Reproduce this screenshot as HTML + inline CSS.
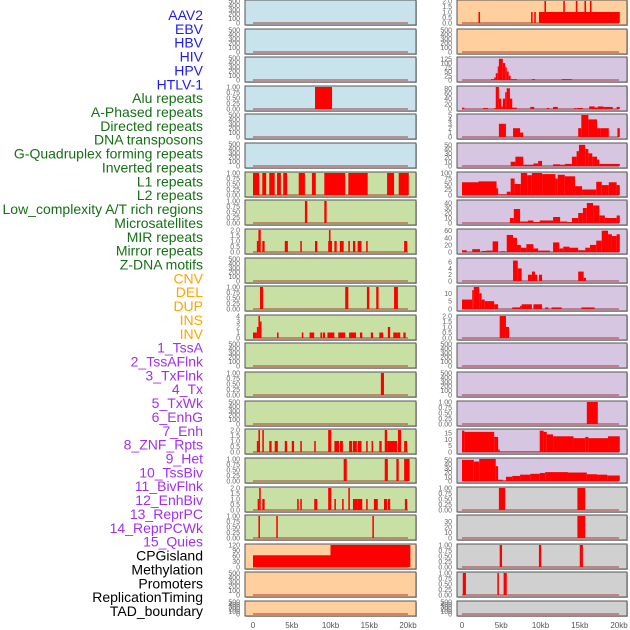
<!DOCTYPE html>
<html><head><meta charset="utf-8">
<style>
html,body{margin:0;padding:0;background:#fff;width:630px;height:630px;overflow:hidden}
svg{display:block}
</style></head>
<body>
<svg id="chart" width="630" height="630" xmlns="http://www.w3.org/2000/svg" font-family="Liberation Sans, sans-serif"></svg>
<script>
const trackLabels = ["AAV2","EBV","HBV","HIV","HPV","HTLV-1","Alu repeats","A-Phased repeats","Directed repeats","DNA transposons","G-Quadruplex forming repeats","Inverted repeats","L1 repeats","L2 repeats","Low_complexity A/T rich regions","Microsatellites","MIR repeats","Mirror repeats","Z-DNA motifs","CNV","DEL","DUP","INS","INV","1_TssA","2_TssAFlnk","3_TxFlnk","4_Tx","5_TxWk","6_EnhG","7_Enh","8_ZNF_Rpts","9_Het","10_TssBiv","11_BivFlnk","12_EnhBiv","13_ReprPC","14_ReprPCWk","15_Quies","CPGisland","Methylation","Promoters","ReplicationTiming","TAD_boundary"];
const labelGroups = ["v","v","v","v","v","v","r","r","r","r","r","r","r","r","r","r","r","r","r","s","s","s","s","s","c","c","c","c","c","c","c","c","c","c","c","c","c","c","c","o","o","o","o","o"];
const xTickLabels = ["0","5kb","10kb","15kb","20kb"];
const xTickValues = [0,5,10,15,20];
const E = ["0","100","200","300","400","500"];
const U = ["0.00","0.25","0.50","0.75","1.00"];
const T2 = ["0.0","0.5","1.0","1.5","2.0"];
const leftBg = ["b","b","b","b","b","b","g","g","g","g","g","g","g","g","g","g","g","g","g","o","o","o"];
const rightBg = ["o","o","p","p","p","p","p","p","p","p","p","p","p","p","p","p","p","y","y","y","y","y"];
const leftTicks = [E,E,E,U,E,E,U,U,T2,E,U,["0","1","2","3","4"],E,U,E,T2,U,T2,U,["0","30","60","90","120"],E,E];
const rightTicks = [T2,E,["0","25","50","75","100","125"],["0","20","40","60","80"],["0","1","2","3","4","5"],["0","10","20","30","40","50"],["0","25","50","75","100"],["0","10","20","30","40"],["0","20","40","60"],["0","2","4","6"],["0","5","10"],T2,E,E,U,["0","5","10","15"],["0","10","20","30","40","50"],U,["0","10","20","30"],U,U,E];
const leftYmax = [500,500,500,1,500,500,1,1,2,500,1,4,500,1,500,2,1,2,1,120,500,500];
const rightYmax = [2,500,130,85,5,52,100,44,62,7,14,2,500,500,1,17.5,52,1,40,1,1,500];
const leftSegs = [
 [],[],[],
 [[8.0,10.2,1]],
 [],[],
 [[0,0.8,1],[1.2,1.7,1],[2.1,2.8,1],[3.1,3.6,1],[3.9,4.4,1],[5.9,6.7,1],[7.6,8.1,1],[9.2,11.9,1],[12.3,14.8,1],[17.3,18.2,1],[18.8,20.1,1]],
 [[6.7,7.0,1],[9.2,9.5,1]],
 [[0.5,0.7,1],[0.7,1.0,2],[1.2,1.5,1],[4.1,4.5,1],[6.1,6.3,1],[8.0,8.3,1],[9.7,9.8,1],[9.8,10.0,2],[10.0,10.2,1],[10.5,10.8,1],[11.2,11.7,1],[12.3,12.5,1],[12.9,13.2,1],[13.5,14.0,1],[14.6,14.8,1],[19.5,19.9,1]],
 [],
 [[0.9,1.3,1],[11.9,12.3,1],[14.7,15.0,1],[15.9,16.2,1],[18.2,18.7,1]],
 [[0,0.5,1],[0.5,0.7,2],[0.7,0.9,4],[0.9,1.1,3],[3.1,3.3,1],[6.3,6.5,1],[7.3,7.9,1],[8.7,8.9,1],[9.0,9.3,1],[9.6,10.5,1],[11.0,11.9,1],[12.4,13.3,1],[13.8,14.1,1],[15.2,15.5,1],[16.3,16.8,1],[17.4,17.7,2],[18.1,18.6,1],[18.6,19.0,1],[19.4,19.7,1]],
 [],
 [[16.5,16.9,1]],
 [],
 [[0.5,0.7,1],[0.7,0.9,2],[1.2,1.4,2],[2.1,2.4,1],[2.8,3.2,1],[4.1,4.4,1],[5.0,5.3,1],[6.1,6.3,1],[7.9,8.1,1],[9.7,10.1,2],[10.5,11.1,1],[11.2,11.6,1],[12.4,12.8,1],[12.9,13.4,1],[13.5,14.0,1],[14.6,14.8,1],[15.3,15.5,1],[16.3,16.6,1],[17.0,17.3,2],[17.3,18.6,1],[18.7,19.1,2],[19.5,19.9,1]],
 [[11.7,12.1,1],[17.0,17.4,1],[18.5,18.8,1],[19.5,20.2,1]],
 [[0.6,0.8,1],[0.8,1.0,2],[1.2,1.5,1],[5.7,5.9,1],[6.1,6.3,1],[7.9,8.3,1],[9.7,10.1,2],[10.5,10.7,1],[11.5,11.7,1],[12.3,12.5,2],[12.9,13.5,1],[13.5,14.1,1],[14.6,14.8,1],[15.6,16.1,1],[16.9,17.3,1],[17.4,17.7,1],[19.6,19.9,1]],
 [[0.7,0.9,1],[3.0,3.2,1],[15.4,15.6,1]],
 [[0,10,64],[10,20.3,120]],
 [],[]
];
const rightSegs = [
 [[2.1,2.3,1],[8.8,9.0,1],[9.2,9.4,1],[9.8,20.1,1],[10.5,10.7,2],[12.9,13.1,2],[14.5,14.7,2],[15.6,15.8,2],[16.3,16.5,2]],
 [],
 [[3.7,4.1,5],[4.1,4.3,15],[4.3,4.55,40],[4.55,4.7,80],[4.7,5.2,125],[5.2,5.5,100],[5.5,5.7,75],[5.7,5.95,50],[5.95,6.2,25],[6.2,7.0,5],[8.9,9.3,5],[12.7,14.0,5]],
 [[0,0.3,5],[2.7,3.3,4],[4.1,4.3,4],[4.3,4.7,85],[4.7,5.0,40],[5.0,5.2,10],[5.2,5.5,40],[5.5,5.7,65],[5.7,6.1,80],[6.1,6.4,40],[6.4,7.0,5],[8.7,9.2,8],[10.8,11.1,4],[11.6,12.2,8],[14.3,14.5,4],[14.6,15.4,4],[16.2,16.9,10],[16.9,17.3,6],[17.3,18.0,10],[18.0,19.2,8],[19.7,20.1,8]],
 [[4.7,5.6,3],[6.5,7.4,2],[7.4,7.8,1],[14.8,15.2,2],[15.2,16.1,5],[16.1,17.2,4],[17.2,17.6,2],[17.6,18.7,2],[19.8,20.1,2]],
 [[6.2,6.8,10],[6.8,7.8,22],[7.8,9.1,3],[9.1,9.7,6],[9.7,10.2,12],[11.6,12.5,4],[12.5,13.1,3],[13.1,14.0,5],[14.0,14.6,22],[14.6,14.9,35],[14.9,15.7,50],[15.7,16.1,40],[16.1,16.6,30],[16.6,17.2,22],[17.2,17.5,15],[17.5,20.1,5]],
 [[0,2.1,58],[2.1,4.4,62],[4.4,4.6,30],[4.6,5.7,3],[5.7,6.2,15],[6.2,6.7,75],[6.7,7.5,50],[7.5,8.3,100],[8.3,8.9,90],[8.9,10.2,100],[10.2,11.9,95],[11.9,12.2,75],[12.2,13.1,92],[13.1,14.4,85],[14.4,15.3,40],[15.3,17.1,25],[17.1,17.8,60],[17.8,18.7,45],[18.7,19.7,58],[19.7,20.1,45]],
 [[6.1,6.6,10],[6.6,7.4,28],[7.4,8.4,3],[8.4,9.1,5],[9.1,9.9,2],[9.9,11.6,5],[11.6,12.5,12],[12.5,13.4,3],[13.4,14.0,2],[14.0,14.8,10],[14.8,15.4,20],[15.4,15.9,30],[15.9,16.7,40],[16.7,17.5,35],[17.5,18.2,15],[18.2,19.7,10],[19.7,20.1,15]],
 [[0,0.6,5],[1.3,2.3,8],[2.5,3.1,3],[3.1,3.9,4],[3.9,4.6,30],[4.9,5.5,2],[5.7,6.5,48],[6.5,7.0,40],[7.0,7.5,20],[7.5,8.2,12],[8.2,9.1,22],[9.1,9.7,10],[9.7,11.2,4],[11.6,12.4,27],[12.4,12.9,10],[12.9,13.7,15],[13.7,14.8,12],[14.8,15.7,5],[15.7,16.3,12],[16.3,17.1,20],[17.1,17.8,32],[17.8,18.6,60],[18.6,19.1,50],[19.1,19.7,45],[19.7,20.1,50]],
 [[6.5,7.1,6.5],[7.1,7.6,4],[8.4,8.9,2],[8.9,9.3,3],[9.3,9.6,2],[9.8,10.2,2],[14.8,15.5,3],[15.5,15.8,1]],
 [[0,1.3,6],[1.3,1.5,12],[1.5,2.2,14],[2.2,2.5,10],[2.5,2.9,6],[2.9,4.1,5],[4.1,4.6,3],[6.4,7.4,1],[7.4,7.6,2],[7.6,8.9,3],[9.1,10.2,3],[10.6,11.0,1],[11.4,12.7,1],[15.2,16.9,1]],
 [[4.8,5.6,2],[5.6,6.0,1]],
 [],[],
 [[15.9,17.3,1]],
 [[0,0.3,17],[0.3,4.1,16],[4.1,4.6,12],[4.6,4.8,2],[4.8,9.9,0.4],[9.9,10.4,17],[10.4,10.8,16],[10.8,11.6,14],[11.6,14.2,12.5],[14.2,15.7,11],[15.7,16.1,12],[16.1,18.6,11],[18.6,20.1,12.5]],
 [[0,1.5,50],[1.5,2.2,46],[2.2,4.3,52],[4.3,4.6,35],[4.6,5.2,3],[5.2,5.6,1],[5.6,6.4,10],[6.4,7.4,12],[7.4,8.7,15],[8.7,9.9,17],[9.9,10.6,19],[10.6,13.5,21],[13.5,15.9,20],[15.9,17.2,16],[17.2,18.5,15],[18.5,20.1,13]],
 [[4.7,5.5,1],[14.7,15.7,1]],
 [[14.7,15.7,40]],
 [[4.8,5.1,1],[9.8,10.1,1],[15.0,15.4,1]],
 [[0.1,0.5,1],[4.5,4.7,1],[5.3,5.7,1]],
 []
];

const NS = "http://www.w3.org/2000/svg";
const svg = document.getElementById('chart');
function mk(tag, attrs, parent){ const e=document.createElementNS(NS,tag); for(const k in attrs) e.setAttribute(k,attrs[k]); (parent||svg).appendChild(e); return e; }
const colors = {b:"#c8e3eb",g:"#c8e0a4",o:"#ffd09e",p:"#d6c6e2",y:"#d0d0d0"};
const labelColors = {v:"#1c1cf0",r:"#157015",s:"#ffa500",c:"#a030f0",o:"#000000"};
const rowTops = [];
for(let i=0;i<22;i++) rowTops.push(Math.round(i*28.62));
function rowH(i){ return i===21 ? 15 : 25; }
const cols = [
 {x0:245,x1:416,z0:253,z20:408,tickX:240,segs:leftSegs,ticks:leftTicks,ymax:leftYmax,bg:leftBg,side:'left'},
 {x0:457,x1:627,z0:462,z20:619,tickX:452,segs:rightSegs,ticks:rightTicks,ymax:rightYmax,bg:rightBg,side:'right'}
];

// labels
trackLabels.forEach((t,i)=>{
  const e = mk('text',{x:203,y:20+i*13.86,'text-anchor':'end','font-size':14,fill:labelColors[labelGroups[i]]});
  e.textContent = t;
  
  
});

cols.forEach(c=>{
  const xs = kb => c.z0 + (c.z20-c.z0)*kb/20;
  for(let i=0;i<22;i++){
    const top=rowTops[i], h=rowH(i), bot=top+h;
    const g = mk('g',{});
    
    
    mk('rect',{x:c.x0+1,y:top+1,width:c.x1-c.x0,height:h,fill:'#bdbdbd'},g);
    mk('rect',{x:c.x0,y:top,width:c.x1-c.x0,height:h,fill:colors[c.bg[i]],stroke:'#555',"stroke-width":1},g);
    const ymax=c.ymax[i];
    const yb = bot-2, ph = h-3;
    const ys = v => yb - v/ymax*ph;
    // baseline
    mk('line',{x1:xs(0),x2:xs(20),y1:yb,y2:yb,stroke:'rgba(170,20,20,0.55)','stroke-width':1.5},g);
    c.segs[i].forEach(s=>{
      const r = mk('rect',{x:xs(s[0]),y:ys(s[2]),width:Math.max(1.2,xs(s[1])-xs(s[0])),height:Math.max(0.5,yb-ys(s[2])),fill:'#ff0000'},g);
      
      
    });
    // ticks
    const tk=c.ticks[i];
    tk.forEach(lbl=>{
      const v=parseFloat(lbl);
      const t=mk('text',{x:c.tickX,y:ys(v)+2.5,'text-anchor':'end','font-size':7,fill:'#666'},g);
      t.textContent=lbl;
      
      
    });
  }
  xTickValues.forEach((v,j)=>{
    const t=mk('text',{x:xs(v),y:628,'text-anchor':'middle','font-size':8,fill:'#555'});
    t.textContent=xTickLabels[j];
    
    
  });
});
</script>
</body></html>
